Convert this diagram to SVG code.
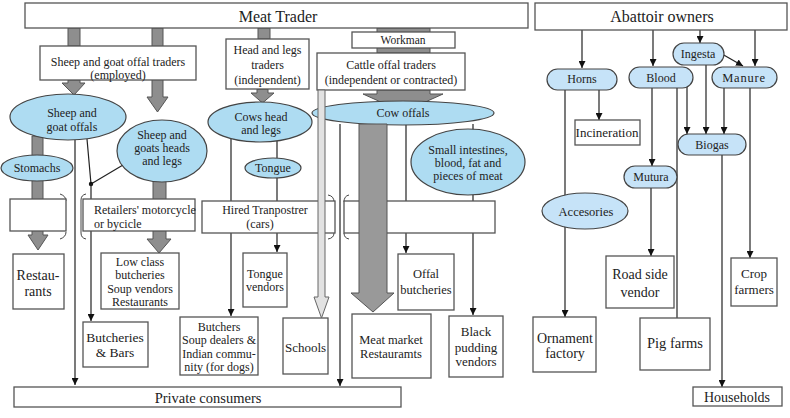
<svg xmlns="http://www.w3.org/2000/svg" width="790" height="418" viewBox="0 0 790 418">
<defs>
<marker id="ah" viewBox="0 0 10 10" refX="10" refY="5" markerWidth="7" markerHeight="7" orient="auto" markerUnits="userSpaceOnUse">
<path d="M0,0 L10,5 L0,10 Z" fill="#111"/>
</marker>
<style>
.box{fill:#fff;stroke:#555;stroke-width:1.3}
.ell{fill:#aedcf2;stroke:#444;stroke-width:1.2}
.pill{fill:#c6e3f8;stroke:#444;stroke-width:1.2}
.t{font-family:"Liberation Serif","Times New Roman",serif;font-size:12px;fill:#222;text-anchor:middle}
.l{text-anchor:start}
.b16{font-size:16px}
.b14{font-size:14px}
.b13{font-size:13px}
.ln{stroke:#222;stroke-width:1.2;fill:none}
.la{stroke:#222;stroke-width:1.2;fill:none;marker-end:url(#ah)}
.br{stroke:#444;stroke-width:1;fill:none}
.g{fill:#8e8e8e;stroke:#555;stroke-width:1}
.gd{fill:#999;stroke:#555;stroke-width:1}
.gl{fill:#e2e2e2;stroke:#666;stroke-width:1}
</style>
</defs>
<rect width="790" height="418" fill="#fff"/>

<g id="connectors">
<!-- gray flow arrows (under nodes) -->
<rect class="g" x="68" y="28" width="12" height="18"/>
<path class="g" d="M68,80 H80 V83 H85 L74,95 L62,83 H68 Z"/>
<path class="g" d="M152,28 H163 V97 H168 L157.5,112 L147,97 H152 Z"/>
<rect class="g" x="258" y="28" width="12" height="11"/>
<path class="g" d="M257,89 H268 V93 H274 L262.5,103 L251,93 H257 Z"/>
<path class="g" d="M32,136 H43 V235 H48 L38,250 L28,235 H32 Z"/>
<path class="g" d="M153,180 H166 V239 H171 L159,253 L147,239 H153 Z"/>
<rect class="g" x="377" y="28" width="53" height="25"/>
<path class="g" d="M377,90 H430 V94 H443 L403,112 L363,94 H377 Z"/>
<!-- thin lines -->
<path class="la" d="M75,140 V385"/>
<path class="ln" d="M87,139 L91,184 L123,165"/>
<circle cx="91" cy="184" r="2.2" fill="#111"/>
<path class="la" d="M91,184 V321"/>
<path class="la" d="M231,139 V316"/>
<path class="ln" d="M277,141 V158"/>
<path class="la" d="M277,178 V252"/>
<path class="la" d="M340,124 V386"/>
<path class="la" d="M406,124 V253"/>
<path class="ln" d="M473,124 V130"/>
<path class="la" d="M473,195 V315"/>
<!-- bridge marks -->
<path class="br" d="M60,194 Q66,196 66,201 M66,232 Q66,237 60,239"/>
<path class="br" d="M86,194 Q81,195 81,200 V233 Q81,238 86,239"/>
<path class="br" d="M328,195 Q334,196 334,202 M334,233 Q334,238 328,239"/>
<path class="br" d="M349,195 Q344,196 344,202 M344,233 Q344,238 349,239"/>
<!-- abattoir side -->
<path class="la" d="M582,30 V68"/>
<path class="la" d="M653,30 V66"/>
<path class="la" d="M700,30 V43"/>
<path class="la" d="M755,30 V66"/>
<path class="la" d="M722,54 L743,66"/>
<path class="la" d="M599,90 V120"/>
<path class="la" d="M565,89 V317"/>
<path class="la" d="M652,88 V166"/>
<path class="la" d="M651,188 V256"/>
<path class="ln" d="M677,87 V318"/>
<path class="la" d="M687,87 V134"/>
<path class="la" d="M706,65 V134"/>
<path class="la" d="M724,88 V134"/>
<path class="la" d="M750,88 V258"/>
<path class="la" d="M722,155 V387"/>
</g>

<g id="meat-trader"><rect class="box" x="25" y="3" width="503" height="25"/><text class="t b16" x="278" y="22">Meat Trader</text></g>
<g id="abattoir-owners"><rect class="box" x="535" y="3" width="252" height="27"/><text class="t b16" x="662" y="22">Abattoir owners</text></g>
<g id="sheep-goat-traders"><rect class="box" x="40" y="46" width="156" height="34"/><text class="t" x="118" y="65.5">Sheep and goat offal traders</text><text class="t" x="118" y="78.5">(employed)</text></g>
<g id="head-legs-traders"><rect class="box" x="226" y="39" width="83" height="50"/><text class="t" x="267.5" y="54">Head and legs</text><text class="t" x="267.5" y="69">traders</text><text class="t" x="267.5" y="84">(independent)</text></g>
<g id="workman"><rect class="box" x="352" y="32" width="103" height="16"/><text class="t" x="403" y="44" style="font-size:11.5px">Workman</text></g>
<g id="cattle-offal-traders"><rect class="box" x="317" y="53" width="148" height="37"/><text class="t" x="391" y="69">Cattle offal traders</text><text class="t" x="391" y="84">(independent or contracted)</text></g>
<g id="sheep-goat-offals"><ellipse class="ell" cx="68" cy="117" rx="58" ry="23"/><text class="t" x="72" y="117">Sheep and</text><text class="t" x="72" y="131">goat offals</text></g>
<g id="sheep-goats-heads"><ellipse class="ell" cx="162" cy="151" rx="45" ry="31"/><text class="t" x="162" y="139">Sheep and</text><text class="t" x="162" y="152">goats heads</text><text class="t" x="162" y="165">and legs</text></g>
<g id="cows-head"><ellipse class="ell" cx="260" cy="122" rx="52" ry="20"/><text class="t" x="261" y="121">Cows head</text><text class="t" x="261" y="134">and legs</text></g>
<g id="cow-offals"><ellipse class="ell" cx="403" cy="113" rx="91" ry="12"/><text class="t" x="403" y="117">Cow offals</text></g>
<g id="stomachs"><ellipse class="ell" cx="37" cy="168" rx="36" ry="13"/><text class="t" x="37" y="172">Stomachs</text></g>
<g id="tongue"><ellipse class="ell" cx="273" cy="168" rx="28" ry="10"/><text class="t" x="273" y="172">Tongue</text></g>
<g id="small-intestines"><ellipse class="ell" cx="468" cy="162" rx="57" ry="33"/><text class="t" x="468" y="154">Small intestines,</text><text class="t" x="468" y="167">blood, fat and</text><text class="t" x="468" y="180">pieces of meat</text></g>
<g id="empty-transport"><rect class="box" x="10" y="199" width="56" height="32"/></g>
<g id="retailers-transport"><rect class="box" x="83" y="199" width="112" height="32"/><text class="t l" x="94" y="214">Retailers' motorcycle</text><text class="t l" x="94" y="228">or bycicle</text></g>
<g id="hired-transporter"><rect class="box" x="202" y="201" width="133" height="32"/><rect class="box" x="344" y="201" width="151" height="32"/><text class="t" x="265" y="214">Hired Tranpostrer</text><text class="t" x="260" y="228">(cars)</text></g>
<g id="restaurants"><rect class="box" x="13" y="254" width="51" height="55"/><text class="t b14" x="38" y="280">Restau-</text><text class="t b14" x="38" y="296">rants</text></g>
<g id="low-class"><rect class="box" x="101" y="253" width="78" height="56"/><text class="t" x="140" y="266">Low class</text><text class="t" x="140" y="279">butcheries</text><text class="t" x="140" y="293">Soup vendors</text><text class="t" x="140" y="306">Restaurants</text></g>
<g id="tongue-vendors"><rect class="box" x="243" y="253" width="44" height="54"/><text class="t" x="265" y="278">Tongue</text><text class="t" x="265" y="291">vendors</text></g>
<g id="offal-butcheries"><rect class="box" x="398" y="254" width="56" height="56"/><text class="t" x="426" y="278" style="font-size:12.5px">Offal</text><text class="t" x="426" y="294" style="font-size:12.5px">butcheries</text></g>
<g id="butcheries-bars"><rect class="box" x="83" y="322" width="65" height="45"/><text class="t" x="115" y="342" style="font-size:13.5px">Butcheries</text><text class="t" x="115" y="357" style="font-size:13.5px">&amp; Bars</text></g>
<g id="butchers"><rect class="box" x="180" y="317" width="78" height="58"/><text class="t" x="219" y="331">Butchers</text><text class="t" x="219" y="344">Soup dealers &amp;</text><text class="t" x="219" y="358">Indian commu-</text><text class="t" x="219" y="371">nity (for dogs)</text></g>
<g id="schools"><rect class="box" x="283" y="318" width="45" height="56"/><text class="t b13" x="305.5" y="352">Schools</text></g>
<g id="meat-market"><rect class="box" x="352" y="314" width="79" height="64"/><text class="t" x="391" y="344" style="font-size:12.5px">Meat market</text><text class="t" x="391" y="358" style="font-size:12.5px">Restauramts</text></g>
<g id="black-pudding"><rect class="box" x="449" y="316" width="54" height="61"/><text class="t b13" x="476" y="336">Black</text><text class="t b13" x="476" y="352">pudding</text><text class="t b13" x="476" y="366">vendors</text></g>
<g id="private-consumers"><rect class="box" x="14" y="387" width="387" height="20"/><text class="t" x="208" y="403" style="font-size:14.5px">Private consumers</text></g>

<g id="horns"><rect class="pill" x="547" y="69" width="70" height="21" rx="10.5"/><text class="t" x="582" y="83">Horns</text></g>
<g id="blood"><rect class="pill" x="629" y="67" width="64" height="21" rx="10.5"/><text class="t" x="661" y="82">Blood</text></g>
<g id="ingesta"><rect class="pill" x="673" y="43" width="51" height="22" rx="11"/><text class="t" x="698" y="58">Ingesta</text></g>
<g id="manure"><rect class="pill" x="712" y="67" width="65" height="21" rx="10.5"/><text class="t" x="744" y="82" style="font-size:12.5px;letter-spacing:0.8px">Manure</text></g>
<g id="incineration"><rect class="box" x="575" y="120" width="65" height="25"/><text class="t b13" x="607" y="137">Incineration</text></g>
<g id="biogas"><rect class="pill" x="678" y="134" width="68" height="21" rx="10.5"/><text class="t" x="712" y="149">Biogas</text></g>
<g id="mutura"><rect class="pill" x="624" y="166" width="53" height="22" rx="11"/><text class="t" x="651" y="181">Mutura</text></g>
<g id="accesories"><ellipse class="pill" cx="585" cy="211" rx="43" ry="18"/><text class="t" x="586" y="216" style="font-size:12.5px">Accesories</text></g>
<g id="road-side-vendor"><rect class="box" x="606" y="256" width="68" height="52"/><text class="t b14" x="640" y="279">Road side</text><text class="t b14" x="640" y="297">vendor</text></g>
<g id="crop-farmers"><rect class="box" x="731" y="258" width="46" height="48"/><text class="t b13" x="754" y="278">Crop</text><text class="t b13" x="754" y="294">farmers</text></g>
<g id="ornament-factory"><rect class="box" x="533" y="317" width="63" height="55"/><text class="t b14" x="565" y="343">Ornament</text><text class="t b14" x="565" y="358">factory</text></g>
<g id="pig-farms"><rect class="box" x="640" y="318" width="70" height="52"/><text class="t" x="675" y="348" style="font-size:14.5px">Pig farms</text></g>
<g id="households"><rect class="box" x="693" y="387" width="89" height="19"/><text class="t b14" x="737" y="402">Households</text></g>

<g id="flow-arrows-over">
<path class="gd" d="M359,124 H387 V293 H394 L373,312 L351,293 H359 Z"/>
<path class="gl" d="M318,90 H325 V297 H329 L321.5,318 L314,297 H318 Z"/>
</g>
</svg>
